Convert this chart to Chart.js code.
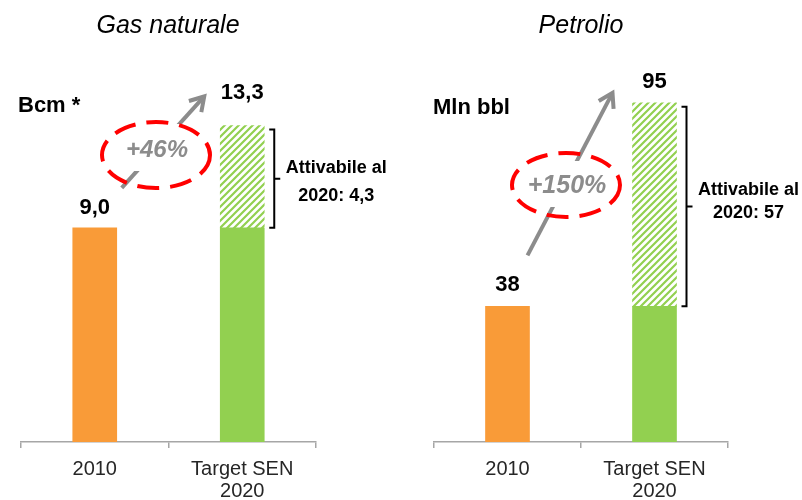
<!DOCTYPE html>
<html><head><meta charset="utf-8">
<script src="https://cdn.jsdelivr.net/npm/chart.js@4/dist/chart.umd.min.js"></script>
<style>
html,body{margin:0;padding:0;background:#fff;}
#wrap{position:relative;width:802px;height:500px;overflow:hidden;}
.box{position:absolute;top:0;width:401px;height:500px;}
</style></head><body>
<div id="wrap">
<div class="box" style="left:0"><canvas id="c1" width="401" height="500"></canvas></div>
<div class="box" style="left:401px"><canvas id="c2" width="401" height="500"></canvas></div>
</div>
<script>
// ---- data ----
const categories = [['2010'], ['Target SEN', '2020']];
const gasBase = [9.0, 9.0];
const gasExtra = [null, 4.3];
const oilBase = [38, 38];
const oilExtra = [null, 57];
const panelTitles = ['Gas naturale', 'Petrolio'];
const unitLabels = ['Bcm *', 'Mln bbl'];
const growthLabels = ['+46%', '+150%'];
const bracketLabels = [['Attivabile al', '2020: 4,3'], ['Attivabile al', '2020: 57']];
const decimals = [1, 0];

const ORANGE = '#F99B38';
const GREEN = '#92D050';
const GRAY = '#8C8C8C';

function hatch() {
  const s = 7;
  const c = document.createElement('canvas'); c.width = s; c.height = s;
  const x = c.getContext('2d');
  x.strokeStyle = GREEN; x.lineWidth = 2.2;
  x.beginPath();
  x.moveTo(-1, s + 1); x.lineTo(s + 1, -1);
  x.moveTo(-s / 2 - 1, s / 2 + 1); x.lineTo(s / 2 + 1, -s / 2 - 1);
  x.moveTo(s / 2 - 1, s * 1.5 + 1); x.lineTo(s * 1.5 + 1, s / 2 - 1);
  x.stroke();
  return x.createPattern(c, 'repeat');
}

function fmt(v, d) { return v.toFixed(d).replace('.', ','); }

function annot(cfg, base, extra, idx) {
  return {
    id: 'annot' + idx,
    afterDraw(chart) {
      const ctx = chart.ctx, xs = chart.scales.x, ys = chart.scales.y;
      const x0 = xs.getPixelForValue(0), x1 = xs.getPixelForValue(1);
      const t0 = base[0] + (extra[0] || 0), t1 = base[1] + (extra[1] || 0);
      const yt0 = ys.getPixelForValue(t0), yt1 = ys.getPixelForValue(t1), ym = ys.getPixelForValue(base[1]);
      ctx.save();
      ctx.textAlign = 'center'; ctx.textBaseline = 'alphabetic';
      ctx.fillStyle = '#000';
      ctx.font = 'italic 25px "Liberation Sans", Arial, sans-serif';
      ctx.fillText(panelTitles[idx], cfg.titleX, 33);
      ctx.textAlign = 'left';
      ctx.font = 'bold 22px "Liberation Sans", Arial, sans-serif';
      ctx.fillText(unitLabels[idx], cfg.unitX, cfg.unitY);
      ctx.textAlign = 'center';
      ctx.fillText(fmt(t0, decimals[idx]), x0, yt0 - cfg.gap[0]);
      ctx.fillText(fmt(t1, decimals[idx]), x1, yt1 - cfg.gap[1]);
      const ax0 = x0 + cfg.arrow[0], ay0 = yt0 + cfg.arrow[1];
      const ax1 = x1 + cfg.arrow[2], ay1 = yt1 + cfg.arrow[3];
      ctx.strokeStyle = GRAY; ctx.lineWidth = 4; ctx.lineCap = 'butt';
      ctx.beginPath(); ctx.moveTo(ax0, ay0); ctx.lineTo(ax1, ay1); ctx.stroke();
      const ang = Math.atan2(ay1 - ay0, ax1 - ax0), hl = 16;
      ctx.beginPath();
      ctx.moveTo(ax1 - hl * Math.cos(ang - 0.55), ay1 - hl * Math.sin(ang - 0.55));
      ctx.lineTo(ax1, ay1);
      ctx.lineTo(ax1 - hl * Math.cos(ang + 0.55), ay1 - hl * Math.sin(ang + 0.55));
      ctx.lineJoin = 'miter';
      ctx.stroke();
      const ex = cfg.ell[0], ey = cfg.ell[1];
      ctx.fillStyle = '#fff';
      ctx.fillRect(ex - 42, ey - cfg.boxH[0], 84, cfg.boxH[0] + cfg.boxH[1]);
      ctx.strokeStyle = '#FF0000'; ctx.lineWidth = 4; ctx.setLineDash([22, 11]);
      ctx.beginPath(); ctx.ellipse(ex, ey, cfg.ell[2], cfg.ell[3], 0, 0, Math.PI * 2); ctx.stroke();
      ctx.setLineDash([]);
      ctx.fillStyle = GRAY;
      ctx.font = 'italic bold ' + cfg.gSize + 'px "Liberation Sans", Arial, sans-serif';
      ctx.textBaseline = 'middle';
      ctx.fillText(growthLabels[idx], ex + 1, ey - cfg.textDy);
      const bx = x1 + 32, by0 = yt1 + 4, by1 = ym;
      ctx.strokeStyle = '#000'; ctx.lineWidth = 2;
      ctx.beginPath();
      ctx.moveTo(bx - 5, by0); ctx.lineTo(bx, by0); ctx.lineTo(bx, by1); ctx.lineTo(bx - 5, by1);
      const bm = (by0 + by1) / 2;
      ctx.moveTo(bx, bm); ctx.lineTo(bx + 6, bm);
      ctx.stroke();
      ctx.fillStyle = '#000';
      ctx.font = 'bold 18px "Liberation Sans", Arial, sans-serif';
      ctx.textBaseline = 'alphabetic';
      ctx.fillText(bracketLabels[idx][0], x1 + 94, cfg.brY[0]);
      ctx.fillText(bracketLabels[idx][1], x1 + 94, cfg.brY[1]);
      ctx.restore();
    }
  };
}

function makeChart(id, base, extra, cfg, idx) {
  return new Chart(document.getElementById(id), {
    type: 'bar',
    data: {
      labels: categories,
      datasets: [
        { data: base, backgroundColor: [ORANGE, GREEN], barThickness: 44, borderWidth: 0 },
        { data: extra, backgroundColor: hatch(), barThickness: 44, borderWidth: 0 }
      ]
    },
    options: {
      responsive: false, animation: false, devicePixelRatio: 1,
      layout: { padding: { left: cfg.padL, right: cfg.padR, top: 85, bottom: 0 } },
      plugins: { legend: { display: false }, tooltip: { enabled: false } },
      scales: {
        x: {
          stacked: true,
          grid: { display: true, drawOnChartArea: false, drawTicks: true, tickLength: 6, color: '#A6A6A6', lineWidth: 1.5 },
          border: { color: '#A6A6A6', width: 1.5 },
          ticks: { color: '#262626', font: { family: '"Liberation Sans", Arial, sans-serif', size: 20, lineHeight: 1.08 }, padding: 11, maxRotation: 0, autoSkip: false },
          afterFit: s => { s.height = 58; }
        },
        y: { stacked: true, display: false, min: 0, max: cfg.max }
      }
    },
    plugins: [annot(cfg, base, extra, idx)]
  });
}

makeChart('c1', gasBase, gasExtra, {
  padL: 21, padR: 85, max: 15, titleX: 168, unitX: 18, unitY: 112,
  gap: [14, 26], arrow: [27, -40, -38, -29], ell: [156, 155, 54, 33], boxH: [31, 16], textDy: 5, gSize: 24,
  brY: [173, 201]
}, 0);
makeChart('c2', oilBase, oilExtra, {
  padL: 33, padR: 74, max: 100, titleX: 180, unitX: 32, unitY: 114,
  gap: [15, 15], arrow: [20, -51, -42, -10], ell: [165, 185, 54, 32], boxH: [24, 22], textDy: -1, gSize: 25,
  brY: [195, 218]
}, 1);
</script>
</body></html>
